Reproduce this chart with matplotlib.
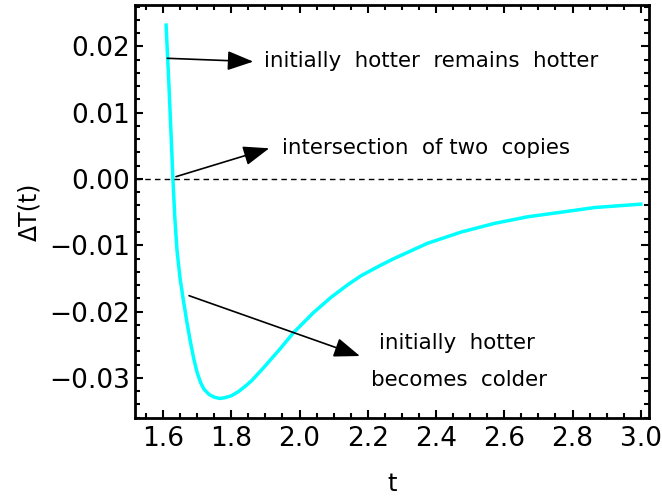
import matplotlib
matplotlib.use("Agg")
import matplotlib.pyplot as plt
from matplotlib.ticker import MultipleLocator

# values
t_vals = [1.609, 1.617, 1.6235, 1.629, 1.6345, 1.641, 1.650, 1.659, 1.670,
          1.680, 1.690, 1.700, 1.710, 1.720, 1.735, 1.750, 1.765, 1.780, 1.800,
          1.820, 1.840, 1.860, 1.894, 1.940, 1.982, 2.040, 2.091, 2.140, 2.180, 2.238,
          2.277, 2.375, 2.474, 2.571, 2.669, 2.768, 2.866, 3.000]
dT_vals = [0.0232, 0.0145, 0.0068, 0.0, -0.0058, -0.0108, -0.0150, -0.0181, -0.0216,
           -0.0245, -0.0271, -0.0292, -0.0307, -0.0317, -0.0325, -0.0329, -0.0331, -0.0330, -0.0327,
           -0.0321, -0.0313, -0.0304, -0.0285, -0.0258, -0.0232, -0.0202, -0.0179, -0.0160, -0.0146,
           -0.0130, -0.0120, -0.0097, -0.0080, -0.0067, -0.0057, -0.0050, -0.0043, -0.0038]

x_ticks = [1.6, 1.8, 2.0, 2.2, 2.4, 2.6, 2.8, 3.0]
y_ticks = [-0.03, -0.02, -0.01, 0.00, 0.01, 0.02]

fig = plt.figure(figsize=(6.62, 4.98), dpi=100)
ax = fig.add_axes([0.204, 0.1606, 0.776, 0.8294])

ax.plot(t_vals, dT_vals, color="cyan", lw=2.5)
ax.axhline(0, color="black", lw=1, ls=(0, (4, 3)))

ax.set_xlim(1.518, 3.0234)
ax.set_ylim(-0.03605, 0.02624)
ax.set_xticks(x_ticks)
ax.set_yticks(y_ticks)
ax.set_xticklabels([f"{v:.1f}" for v in x_ticks])
ax.set_yticklabels([f"{v:.2f}".replace("-", "\u2212") for v in y_ticks])
ax.xaxis.set_minor_locator(MultipleLocator(0.05))
ax.yaxis.set_minor_locator(MultipleLocator(0.002))
ax.tick_params(which="both", direction="in", top=True, right=True, width=1.5)
ax.tick_params(which="major", length=6, labelsize=19)
ax.tick_params(which="minor", length=3.5)
ax.tick_params(axis="x", which="major", pad=6)
for s in ax.spines.values():
    s.set_linewidth(2)

ax.set_xlabel("t", fontsize=17.5, labelpad=14)
ax.set_ylabel("\u0394T(t)", fontsize=17, labelpad=6)

arrow = dict(arrowstyle="-|>,head_length=0.8,head_width=0.3", mutation_scale=20,
             color="black", lw=1.2, shrinkA=0, shrinkB=0)
ax.annotate("", xy=(1.8645, 0.0177), xytext=(1.6126, 0.0182), arrowprops=arrow)
ax.annotate("", xy=(1.9113, 0.00463), xytext=(1.638, 0.00035), arrowprops=arrow)
ax.annotate("", xy=(2.177, -0.0267), xytext=(1.6762, -0.0176), arrowprops=arrow)

ax.text(1.8967, 0.01784, "initially  hotter  remains  hotter", fontsize=15.4, va="center")
ax.text(1.9494, 0.00463, "intersection  of two  copies", fontsize=15.4, va="center")
ax.text(2.461, -0.02474, "initially  hotter", fontsize=15.4, va="center", ha="center")
ax.text(2.468, -0.0303, "becomes  colder", fontsize=15.4, va="center", ha="center")

fig.savefig("out.png", dpi=100)
